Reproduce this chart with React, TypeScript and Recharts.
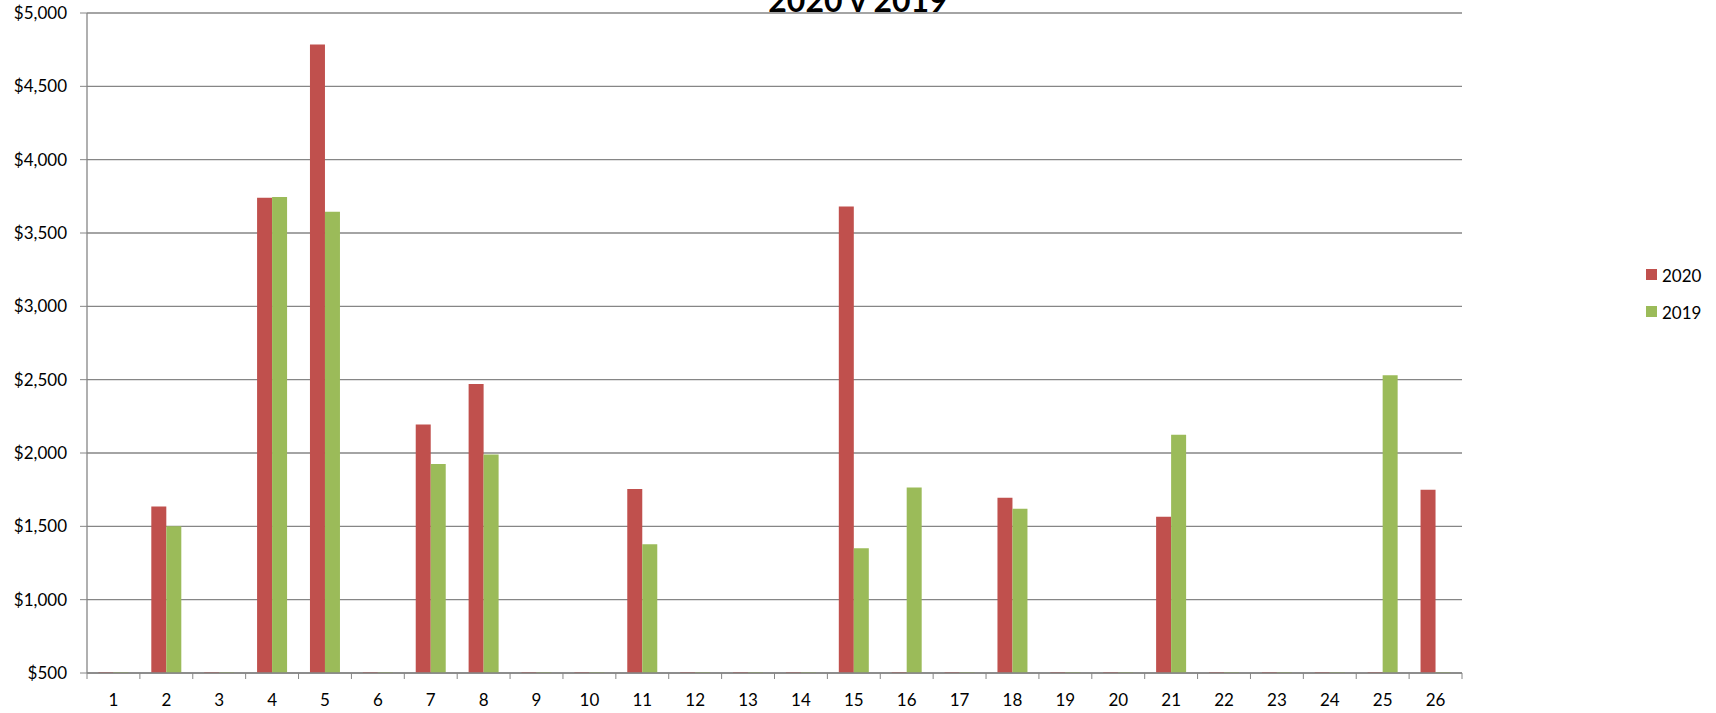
import React from 'react';
import { BarChart, Bar, XAxis, YAxis, CartesianGrid } from 'recharts';

const categories = ['1','2','3','4','5','6','7','8','9','10','11','12','13','14','15','16','17','18','19','20','21','22','23','24','25','26'];
const sales2020 = [0,1635,0,3740,4785,0,2195,2470,0,0,1755,0,0,0,3680,0,0,1695,0,0,1565,0,0,0,0,1750];
const sales2019 = [0,1500,0,3745,3645,0,1925,1990,0,0,1378,0,0,0,1350,1765,0,1620,0,0,2125,0,0,0,2530,0];
const yTicks = [500,1000,1500,2000,2500,3000,3500,4000,4500,5000];
const seriesNames = ['2020','2019'];
const seriesColors = ['#C0504D','#9BBB59'];
const titleText = '2020 v 2019';

const Y_MIN = yTicks[0];
const Y_MAX = yTicks[yTicks.length - 1];

const data = categories.map((c, i) => ({
  cat: c,
  s2020: Math.max(sales2020[i], Y_MIN),
  s2019: Math.max(sales2019[i], Y_MIN),
}));

const AXIS = '#868686';
const FONT = 'Lato, "Open Sans", sans-serif';

const fmt = (v: number) => '$' + v.toLocaleString('en-US');

const XTick = (props: any) => {
  const { x, y, payload, index, visibleTicksCount } = props;
  const half = payload && typeof payload.offset === 'number' ? payload.offset : 0;
  return (
    <g>
      {half > 0 && <line x1={x - half} x2={x - half} y1={y} y2={y + 6} stroke={AXIS} strokeWidth={1} />}
      {half > 0 && index === visibleTicksCount - 1 && (
        <line x1={x + half} x2={x + half} y1={y} y2={y + 6} stroke={AXIS} strokeWidth={1} />
      )}
      <text x={x} y={y + 21} dy="0.71em" textAnchor="middle" fill="#000" fontSize={17} fontFamily={FONT}>
        {payload.value}
      </text>
    </g>
  );
};

export default function App() {
  return (
    <div style={{ position: 'absolute', left: 0, top: 0, width: 1716, height: 713, background: '#fff', fontFamily: FONT }}>
      <BarChart
        width={1716}
        height={713}
        data={data}
        margin={{ top: 13, right: 254, bottom: 0, left: 0 }}
        barCategoryGap="21.6%"
        barGap={0}
      >
        <CartesianGrid vertical={false} stroke={AXIS} strokeWidth={1.3} />
        <XAxis
          dataKey="cat"
          height={40}
          interval={0}
          axisLine={{ stroke: AXIS, strokeWidth: 1.3 }}
          tickLine={false}
          tickSize={0}
          tickMargin={0}
          tick={<XTick />}
        />
        <YAxis
          width={87}
          domain={[Y_MIN, Y_MAX]}
          ticks={yTicks}
          interval={0}
          allowDataOverflow
          tickFormatter={fmt}
          axisLine={{ stroke: AXIS, strokeWidth: 1.3 }}
          tickLine={{ stroke: AXIS }}
          tickSize={7}
          tickMargin={13}
          tick={{ fill: '#000', fontSize: 17, fontFamily: FONT }}
        />
        <Bar dataKey="s2020" name={seriesNames[0]} fill={seriesColors[0]} isAnimationActive={false} minPointSize={1} />
        <Bar dataKey="s2019" name={seriesNames[1]} fill={seriesColors[1]} isAnimationActive={false} minPointSize={1} />
      </BarChart>
      <svg width={1716} height={713} style={{ position: 'absolute', left: 0, top: 0, pointerEvents: 'none' }}>
        <text x={858} y={12} textAnchor="middle" fontSize={32} fontWeight="bold" fontFamily={FONT} fill="#000">
          {titleText}
        </text>
        {seriesNames.map((n, i) => (
          <g key={n}>
            <rect x={1646} y={269 + i * 37} width={11} height={11} fill={seriesColors[i]} />
            <text x={1662} y={275 + i * 37} dominantBaseline="central" fontSize={17} fontFamily={FONT} fill="#000">
              {n}
            </text>
          </g>
        ))}
      </svg>
    </div>
  );
}
